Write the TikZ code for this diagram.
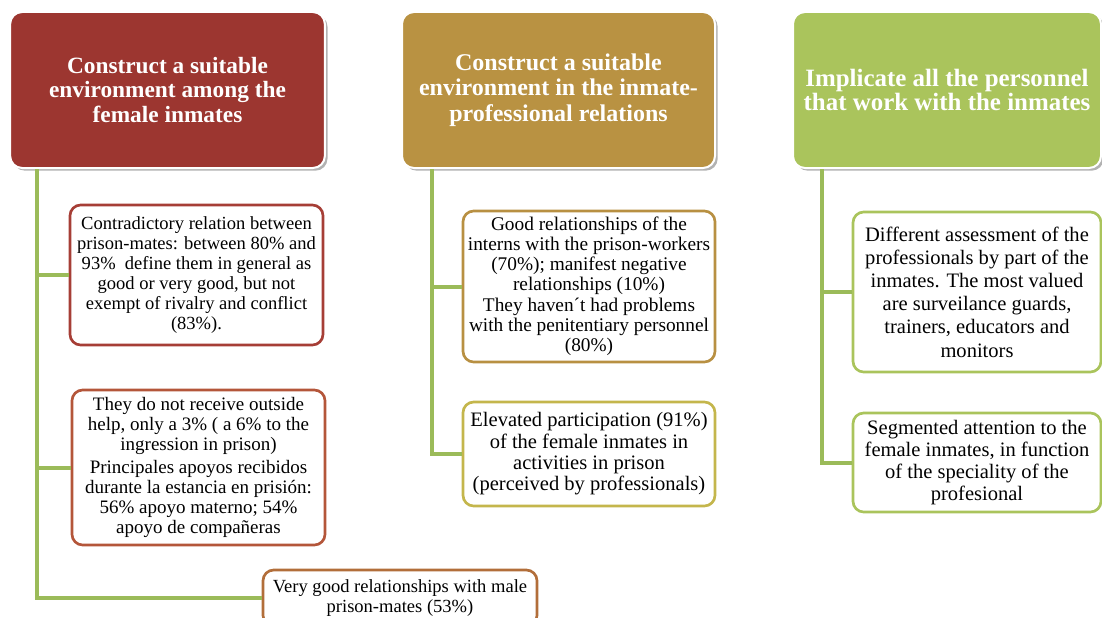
\documentclass[tikz,border=0pt]{standalone}
\usepackage{fontspec}
\setmainfont{Liberation Serif}
\usepackage{xcolor}
\usetikzlibrary{shadows}

\definecolor{redhead}{RGB}{156,54,48}
\definecolor{goldhead}{RGB}{185,146,66}
\definecolor{greenhead}{RGB}{170,196,92}
\definecolor{redline}{RGB}{166,62,54}
\definecolor{rustline}{RGB}{180,86,58}
\definecolor{brownline}{RGB}{178,110,58}
\definecolor{goldline}{RGB}{184,144,66}
\definecolor{oliveline}{RGB}{196,182,76}
\definecolor{greenline}{RGB}{170,196,92}
\definecolor{trunk}{RGB}{155,187,89}

\tikzset{
  head/.style={rounded corners=9pt, draw=white, line width=1.5pt, text=white,
    align=center, font=\bfseries\fontsize{18}{19}\selectfont,
    drop shadow={shadow xshift=2pt, shadow yshift=-2pt, opacity=0.3, fill=black}},
  leaf/.style={rounded corners=8pt, fill=white, line width=2pt, align=center,
    inner sep=2pt, font=\fontsize{14}{15}\selectfont},
  link/.style={draw=trunk, line width=3pt}
}

\begin{document}
\begin{tikzpicture}[x=0.75pt,y=-0.75pt]
\useasboundingbox (0,0) rectangle (1102,617);

\node[head, fill=redhead, minimum width=236pt, minimum height=117pt,
  font=\bfseries\fontsize{17.5}{18.5}\selectfont] (h1) at (167.5,90)
  {Construct a suitable\\ environment among the\\ female inmates};
\node[head, fill=goldhead, minimum width=234.75pt, minimum height=117pt] (h2) at (558.5,90)
  {Construct a suitable\\ environment in the inmate-\\ professional relations};
\node[head, fill=greenhead, minimum width=231pt, minimum height=117pt,
  font=\bfseries\fontsize{18.7}{17.5}\selectfont] (h3) at (947,90)
  {Implicate all the personnel\\ that work with the inmates};

\node[leaf, draw=redline, minimum width=189.75pt, minimum height=105pt,
  font=\fontsize{13.9}{15}\selectfont] (b1a) at (196.5,275)
  {Contradictory relation between\\ prison-mates: between 80\% and\\ 93\%\ \ define them in general as\\ good or very good, but not\\ exempt of rivalry and conflict\\ (83\%).};
\node[leaf, draw=rustline, minimum width=189.75pt, minimum height=116.25pt,
  font=\fontsize{14.25}{15}\selectfont] (b1b) at (198.5,467.5)
  {They do not receive outside\\ help, only a 3\% ( a 6\% to the\\ ingression in prison)\\[2pt]
   Principales apoyos recibidos\\ durante la estancia en prisión:\\ 56\% apoyo materno; 54\%\\ apoyo de compañeras};
\node[leaf, draw=brownline, minimum width=205.5pt, minimum height=42pt,
  font=\fontsize{13.9}{15}\selectfont] (b1c) at (400,598)
  {Very good relationships with male\\ prison-mates (53\%)};

\node[leaf, draw=goldline, minimum width=189pt, minimum height=113.25pt,
  font=\fontsize{14.5}{15}\selectfont] (b2a) at (589,286.5)
  {Good relationships of the\\ interns with the prison-workers\\ (70\%); manifest negative\\ relationships (10\%)\\[1pt]
   They haven´t had problems\\ with the penitentiary personnel\\ (80\%)};
\node[leaf, draw=oliveline, minimum width=189pt, minimum height=78pt,
  font=\fontsize{15.4}{16}\selectfont] (b2b) at (589,454)
  {Elevated participation (91\%)\\ of the female inmates in\\ activities in prison\\ (perceived by professionals)};

\node[leaf, draw=greenline, minimum width=186pt, minimum height=120pt,
  font=\fontsize{15.4}{17.4}\selectfont] (b3a) at (977,292)
  {Different assessment of the\\ professionals by part of the\\ inmates. The most valued\\ are surveilance guards,\\ trainers, educators and\\ monitors};
\node[leaf, draw=greenline, minimum width=186pt, minimum height=74.25pt,
  font=\fontsize{15.4}{16.5}\selectfont] (b3b) at (977,462.5)
  {Segmented attention to the\\ female inmates, in function\\ of the speciality of the\\ profesional};

\draw[link] ([xshift=21pt]h1.south west) |- (b1a.west);
\draw[link] ([xshift=21pt]h1.south west) |- (b1b.west);
\draw[link] ([xshift=21pt]h1.south west) |- (b1c.west);

\draw[link] ([xshift=23.25pt]h2.south west) |- (b2a.west);
\draw[link] ([xshift=23.25pt]h2.south west) |- (b2b.west);

\draw[link] ([xshift=22.5pt]h3.south west) |- (b3a.west);
\draw[link] ([xshift=22.5pt]h3.south west) |- (b3b.west);
\end{tikzpicture}
\end{document}
